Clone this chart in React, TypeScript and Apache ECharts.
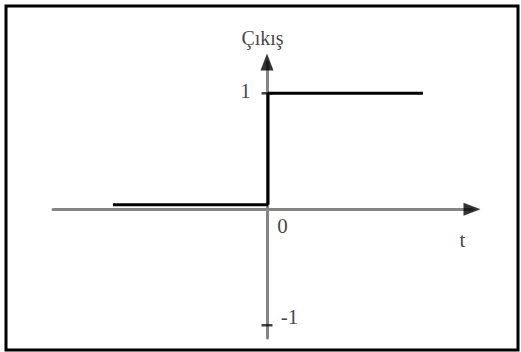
import React, { useEffect, useRef } from "react";
import * as echarts from "echarts";

// Step response (birim basamak): output 0 before t=0, 1 after
const lowerStep: [number, number][] = [[-1.54, 0.04], [0.01, 0.04]];
const riseStep: [number, number][] = [[0.01, 0.04], [0.01, 1]];
const upperStep: [number, number][] = [[0.01, 1], [1.56, 1]];
const tickValues: number[] = [1, -1];
const tickLabels: string[] = ["1", "-1"];
const xRange: [number, number] = [-2.14, 2.05];
const yRange: [number, number] = [-1.11, 1.27];
const yTitle = "Çıkış";
const xTitle = "t";
const originLabel = "0";

export default function App() {
  const ref = useRef<HTMLDivElement>(null);
  useEffect(() => {
    if (!ref.current) return;
    const chart = echarts.init(ref.current, null, { renderer: "svg" });
    const font = "'Liberation Serif', 'DejaVu Serif', serif";
    const textStyle = { color: "#111", fontFamily: font, fontSize: 21 };
    chart.setOption({
      animation: false,
      backgroundColor: "#ffffff",
      grid: { left: 53, right: 49, top: 62, bottom: 14 },
      xAxis: {
        type: "value",
        min: xRange[0],
        max: xRange[1],
        axisLine: { onZero: true, lineStyle: { color: "#858585", width: 3 } },
        axisTick: { show: false },
        axisLabel: { show: false },
        splitLine: { show: false },
      },
      yAxis: {
        type: "value",
        min: yRange[0],
        max: yRange[1],
        axisLine: { onZero: true, lineStyle: { color: "#858585", width: 3 } },
        axisTick: { show: false },
        axisLabel: { show: false },
        splitLine: { show: false },
      },
      graphic: [
        {
          type: "rect",
          shape: { x: 6, y: 6, width: 512, height: 344 },
          style: { fill: "none", stroke: "#000", lineWidth: 3 },
          silent: true,
        },
      ],
      series: [
        {
          type: "line",
          data: lowerStep,
          symbol: "none",
          lineStyle: { color: "#000", width: 3 },
        },
        {
          type: "line",
          data: riseStep,
          symbol: "none",
          lineStyle: { color: "#000", width: 3 },
        },
        {
          type: "line",
          data: upperStep,
          symbol: "none",
          lineStyle: { color: "#000", width: 3 },
        },
        // tick marks on the y axis
        {
          type: "scatter",
          clip: false,
          symbol: "rect",
          symbolSize: [11, 2.5],
          itemStyle: { color: "#111" },
          data: tickValues.map((v, i) => ({
            value: [0, v],
            label: {
              show: true,
              formatter: tickLabels[i],
              position: v > 0 ? [-16, -1] : [28, -7],
              align: "center",
              verticalAlign: "middle",
              ...textStyle,
            },
          })),
        },
        // arrow heads
        {
          type: "scatter",
          clip: false,
          symbol: "triangle",
          symbolSize: [13, 17],
          itemStyle: { color: "#000" },
          data: [
            { value: [xRange[1], 0], symbolRotate: -90 },
            { value: [0, yRange[1]], symbolRotate: 0 },
          ],
        },
        // text annotations
        {
          type: "scatter",
          clip: false,
          symbolSize: 1,
          itemStyle: { color: "rgba(0,0,0,0)" },
          data: [
            {
              value: [0, 0],
              label: { show: true, formatter: originLabel, position: [16, 17], align: "center", verticalAlign: "middle", ...textStyle },
            },
            {
              value: [xRange[1], 0],
              label: { show: true, formatter: xTitle, position: [-9, 31], align: "center", verticalAlign: "middle", ...textStyle },
            },
            {
              value: [0, yRange[1]],
              label: { show: true, formatter: yTitle, position: [-4, -24], align: "center", verticalAlign: "middle", ...textStyle, fontSize: 20 },
            },
          ],
        },
      ],
    });
    return () => chart.dispose();
  }, []);
  return (
    <div
      ref={ref}
      style={{ position: "fixed", left: 0, top: 0, width: 521, height: 352, background: "#fff" }}
    />
  );
}
